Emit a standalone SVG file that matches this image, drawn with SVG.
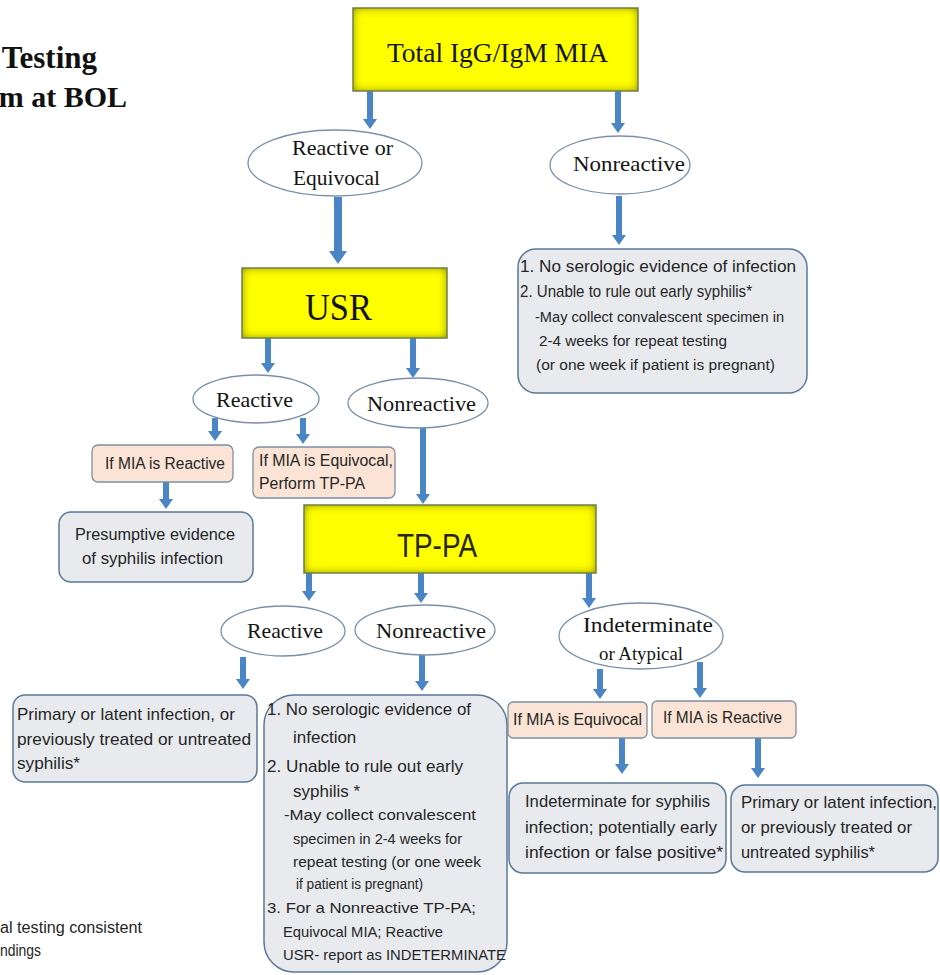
<svg xmlns="http://www.w3.org/2000/svg" width="940" height="975" viewBox="0 0 940 975">
<style>
.serif{font-family:"Liberation Serif","DejaVu Serif",serif;fill:#141414}
.bold{font-weight:bold;fill:#111}
.sans{font-family:"Liberation Sans",Arial,sans-serif;fill:#262626}
.ell{fill:#ffffff;stroke:#7a90a8;stroke-width:1.3}
.gray{fill:#e8eaee;stroke:#58799a;stroke-width:1.5}
.peach{fill:#fbe4d5;stroke:#7f8fa2;stroke-width:1.3}
.yel{fill:#ffff00}
.yelb{fill:none;stroke:#6f8048;stroke-width:1.5}
.arr{stroke:#4a86c6;stroke-width:6;fill:none;marker-end:url(#ah)}
.arrT{stroke:#4a86c6;stroke-width:8;fill:none;marker-end:url(#ahT)}
</style>
<defs>
<marker id="ah" markerUnits="userSpaceOnUse" viewBox="0 0 10 14" markerWidth="10" markerHeight="14" refX="1" refY="7" orient="auto">
<path d="M0,0 L10,7 L0,14 z" fill="#4a86c6"/>
</marker>
<marker id="ahT" markerUnits="userSpaceOnUse" viewBox="0 0 13 18" markerWidth="13" markerHeight="18" refX="1" refY="9" orient="auto">
<path d="M0,0 L13,9 L0,18 z" fill="#4a86c6"/>
</marker>
<filter id="inset" x="-10%" y="-20%" width="120%" height="140%">
<feFlood flood-color="#5c5c00" result="c"/>
<feComposite in="c" in2="SourceAlpha" operator="out" result="outside"/>
<feGaussianBlur in="outside" stdDeviation="5" result="blur"/>
<feComposite in="blur" in2="SourceAlpha" operator="in" result="shadow"/>
<feMerge><feMergeNode in="SourceGraphic"/><feMergeNode in="shadow"/></feMerge>
</filter>
</defs>
<rect width="940" height="975" fill="#ffffff"/>

<g id="title">
<text class="serif bold" x="97" y="68" font-size="31" text-anchor="end">Testing</text>
<text class="serif bold" x="127" y="107" font-size="30" text-anchor="end">m at BOL</text>
</g>

<g id="footnote">
<text class="sans" x="0" y="933" font-size="16" textLength="142" lengthAdjust="spacingAndGlyphs">al testing consistent</text>
<text class="sans" x="0" y="956" font-size="16" textLength="41" lengthAdjust="spacingAndGlyphs">ndings</text>
</g>

<g id="connectors">
<line class="arr" x1="370" y1="91" x2="370" y2="120"/>
<line class="arr" x1="618" y1="91" x2="618" y2="124"/>
<line class="arrT" x1="338" y1="197" x2="338" y2="252"/>
<line class="arr" x1="619" y1="196" x2="619" y2="236"/>
<line class="arr" x1="268" y1="338" x2="268" y2="364"/>
<line class="arr" x1="413" y1="338" x2="413" y2="369"/>
<line class="arr" x1="215" y1="418" x2="215" y2="432"/>
<line class="arr" x1="303" y1="418" x2="303" y2="435"/>
<line class="arr" x1="166" y1="482" x2="166" y2="500"/>
<line class="arr" x1="423" y1="428" x2="423" y2="495"/>
<line class="arr" x1="309" y1="573" x2="309" y2="592"/>
<line class="arr" x1="421" y1="573" x2="421" y2="594"/>
<line class="arr" x1="589" y1="573" x2="589" y2="599"/>
<line class="arr" x1="243" y1="657" x2="243" y2="680"/>
<line class="arr" x1="422" y1="655" x2="422" y2="682"/>
<line class="arr" x1="600" y1="669" x2="600" y2="690"/>
<line class="arr" x1="700" y1="662" x2="700" y2="689"/>
<line class="arr" x1="622" y1="738" x2="622" y2="765"/>
<line class="arr" x1="758" y1="738" x2="758" y2="769"/>
</g>

<g id="mia">
<rect class="yel" x="353" y="8" width="285" height="83" filter="url(#inset)"/>
<rect class="yelb" x="353" y="8" width="285" height="83"/>
<text class="serif" x="387" y="62" font-size="28" textLength="221" lengthAdjust="spacingAndGlyphs">Total IgG/IgM MIA</text>
</g>

<g id="reactive-equivocal">
<ellipse class="ell" cx="335" cy="163" rx="87" ry="33"/>
<text class="serif" x="292" y="155" font-size="21" textLength="101" lengthAdjust="spacingAndGlyphs">Reactive or</text>
<text class="serif" x="293" y="185" font-size="21" textLength="87" lengthAdjust="spacingAndGlyphs">Equivocal</text>
</g>

<g id="nonreactive-mia">
<ellipse class="ell" cx="620" cy="165" rx="70" ry="29"/>
<text class="serif" x="573" y="171" font-size="21" textLength="112" lengthAdjust="spacingAndGlyphs">Nonreactive</text>
</g>

<g id="result-mia-nonreactive">
<rect class="gray" x="518" y="249" width="289" height="144" rx="18"/>
<text class="sans" x="520" y="272" font-size="17" textLength="276" lengthAdjust="spacingAndGlyphs">1.  No serologic evidence of infection</text>
<text class="sans" x="520" y="297" font-size="17" textLength="232" lengthAdjust="spacingAndGlyphs">2.  Unable to rule out early syphilis*</text>
<text class="sans" x="535" y="322" font-size="14" textLength="249" lengthAdjust="spacingAndGlyphs">-May collect convalescent specimen in</text>
<text class="sans" x="539" y="346" font-size="14" textLength="188" lengthAdjust="spacingAndGlyphs">2-4 weeks for repeat testing</text>
<text class="sans" x="536" y="370" font-size="14" textLength="239" lengthAdjust="spacingAndGlyphs">(or one week if patient is pregnant)</text>
</g>

<g id="usr">
<rect class="yel" x="242" y="268" width="205" height="70" filter="url(#inset)"/>
<rect class="yelb" x="242" y="268" width="205" height="70"/>
<text class="serif" x="305" y="320" font-size="38" textLength="67" lengthAdjust="spacingAndGlyphs">USR</text>
</g>

<g id="usr-reactive">
<ellipse class="ell" cx="256" cy="399" rx="63" ry="24"/>
<text class="serif" x="216" y="407" font-size="21" textLength="77" lengthAdjust="spacingAndGlyphs">Reactive</text>
</g>

<g id="usr-nonreactive">
<ellipse class="ell" cx="418" cy="403" rx="70" ry="25"/>
<text class="serif" x="367" y="411" font-size="21" textLength="109" lengthAdjust="spacingAndGlyphs">Nonreactive</text>
</g>

<g id="usr-mia-reactive">
<rect class="peach" x="92" y="445" width="141" height="37" rx="6"/>
<text class="sans" x="105" y="469" font-size="16" textLength="120" lengthAdjust="spacingAndGlyphs">If MIA is Reactive</text>
</g>

<g id="usr-mia-equivocal">
<rect class="peach" x="253" y="447" width="142" height="51" rx="6"/>
<text class="sans" x="259" y="466" font-size="16" textLength="134" lengthAdjust="spacingAndGlyphs">If MIA is Equivocal,</text>
<text class="sans" x="259" y="489" font-size="16" textLength="106" lengthAdjust="spacingAndGlyphs">Perform  TP-PA</text>
</g>

<g id="presumptive">
<rect class="gray" x="59" y="512" width="194" height="70" rx="12"/>
<text class="sans" x="75" y="540" font-size="17" textLength="160" lengthAdjust="spacingAndGlyphs">Presumptive  evidence</text>
<text class="sans" x="82" y="564" font-size="17" textLength="141" lengthAdjust="spacingAndGlyphs">of syphilis  infection</text>
</g>

<g id="tppa">
<rect class="yel" x="304" y="505" width="292" height="68" filter="url(#inset)"/>
<rect class="yelb" x="304" y="505" width="292" height="68"/>
<text class="sans" x="397" y="557" font-size="33" textLength="80" lengthAdjust="spacingAndGlyphs">TP-PA</text>
</g>

<g id="tppa-reactive">
<ellipse class="ell" cx="283" cy="631" rx="62" ry="25"/>
<text class="serif" x="247" y="638" font-size="21" textLength="76" lengthAdjust="spacingAndGlyphs">Reactive</text>
</g>

<g id="tppa-nonreactive">
<ellipse class="ell" cx="425" cy="630" rx="70" ry="25"/>
<text class="serif" x="376" y="638" font-size="21" textLength="110" lengthAdjust="spacingAndGlyphs">Nonreactive</text>
</g>

<g id="tppa-indeterminate">
<ellipse class="ell" cx="641" cy="636" rx="82" ry="33"/>
<text class="serif" x="583" y="632" font-size="21" textLength="130" lengthAdjust="spacingAndGlyphs">Indeterminate</text>
<text class="serif" x="599" y="660" font-size="19" textLength="84" lengthAdjust="spacingAndGlyphs">or Atypical</text>
</g>

<g id="result-tppa-reactive">
<rect class="gray" x="13" y="695" width="244" height="87" rx="12"/>
<text class="sans" x="17" y="720" font-size="17" textLength="218" lengthAdjust="spacingAndGlyphs">Primary or  latent infection, or</text>
<text class="sans" x="17" y="745" font-size="17" textLength="234" lengthAdjust="spacingAndGlyphs">previously  treated or untreated</text>
<text class="sans" x="17" y="769" font-size="17" textLength="63" lengthAdjust="spacingAndGlyphs">syphilis*</text>
</g>

<g id="result-tppa-nonreactive">
<rect class="gray" x="264" y="695" width="243" height="277" rx="30"/>
<text class="sans" x="267" y="715" font-size="17" textLength="204" lengthAdjust="spacingAndGlyphs">1. No serologic evidence of</text>
<text class="sans" x="293" y="743" font-size="17">infection</text>
<text class="sans" x="267" y="772" font-size="17" textLength="196" lengthAdjust="spacingAndGlyphs">2. Unable to rule out early</text>
<text class="sans" x="293" y="797" font-size="17">syphilis  *</text>
<text class="sans" x="284" y="820" font-size="14" textLength="192" lengthAdjust="spacingAndGlyphs">-May collect convalescent</text>
<text class="sans" x="293" y="844" font-size="14" textLength="169" lengthAdjust="spacingAndGlyphs">specimen in 2-4 weeks for</text>
<text class="sans" x="293" y="867" font-size="14" textLength="188" lengthAdjust="spacingAndGlyphs">repeat testing (or one week</text>
<text class="sans" x="296" y="889" font-size="14" textLength="127" lengthAdjust="spacingAndGlyphs">if patient is pregnant)</text>
<text class="sans" x="267" y="913" font-size="15" textLength="209" lengthAdjust="spacingAndGlyphs">3. For a Nonreactive TP-PA;</text>
<text class="sans" x="283" y="937" font-size="15" textLength="160" lengthAdjust="spacingAndGlyphs">Equivocal MIA; Reactive</text>
<text class="sans" x="283" y="960" font-size="15" textLength="223" lengthAdjust="spacingAndGlyphs">USR- report as INDETERMINATE</text>
</g>

<g id="ind-mia-equivocal">
<rect class="peach" x="508" y="702" width="139" height="36" rx="5"/>
<text class="sans" x="513" y="725" font-size="16" textLength="129" lengthAdjust="spacingAndGlyphs">If MIA is Equivocal</text>
</g>

<g id="ind-mia-reactive">
<rect class="peach" x="652" y="701" width="144" height="37" rx="5"/>
<text class="sans" x="663" y="723" font-size="16" textLength="119" lengthAdjust="spacingAndGlyphs">If MIA is Reactive</text>
</g>

<g id="result-indeterminate">
<rect class="gray" x="509" y="783" width="217" height="90" rx="14"/>
<text class="sans" x="525" y="807" font-size="17" textLength="185" lengthAdjust="spacingAndGlyphs">Indeterminate for syphilis</text>
<text class="sans" x="525" y="833" font-size="17" textLength="192" lengthAdjust="spacingAndGlyphs">infection; potentially early</text>
<text class="sans" x="525" y="858" font-size="17" textLength="198" lengthAdjust="spacingAndGlyphs">infection or false  positive*</text>
</g>

<g id="result-primary">
<rect class="gray" x="731" y="785" width="207" height="87" rx="14"/>
<text class="sans" x="741" y="808" font-size="17" textLength="196" lengthAdjust="spacingAndGlyphs">Primary or latent infection,</text>
<text class="sans" x="741" y="833" font-size="17" textLength="171" lengthAdjust="spacingAndGlyphs">or previously  treated or</text>
<text class="sans" x="741" y="858" font-size="17" textLength="134" lengthAdjust="spacingAndGlyphs">untreated syphilis*</text>
</g>
</svg>
